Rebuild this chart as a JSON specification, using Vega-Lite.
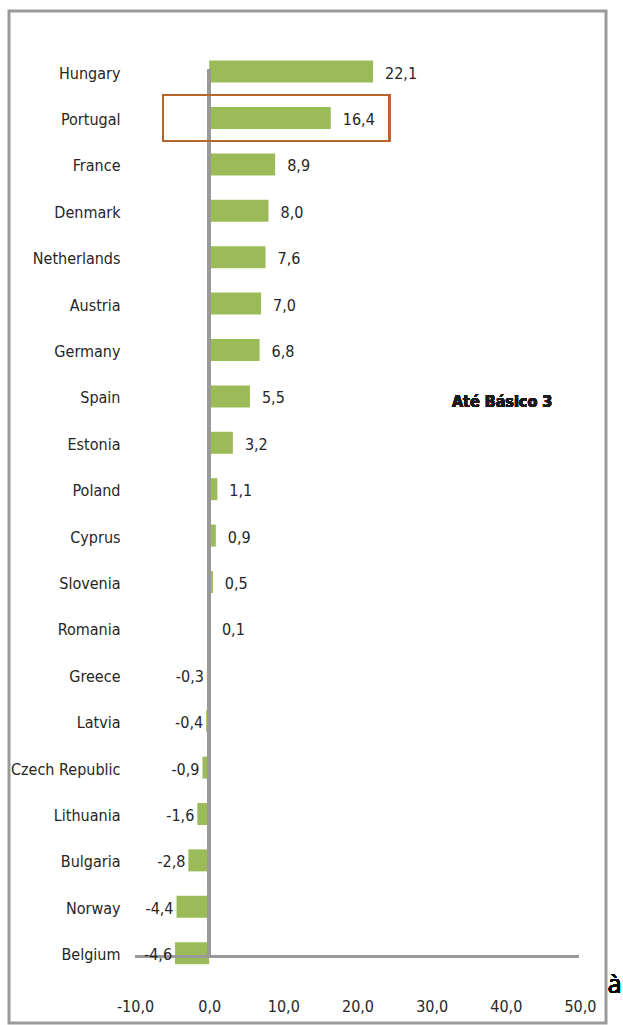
{
  "$schema": "https://vega.github.io/schema/vega-lite/v6.json",
  "width": 597,
  "height": 1012,
  "autosize": "none",
  "padding": {"left": 9, "top": 11, "right": 17, "bottom": 2},
  "background": "white",
  "config": {
    "locale": {"number": {"decimal": ",", "thousands": ".", "grouping": [3], "currency": ["", " €"], "minus": "-"}},
    "view": {"stroke": "#9a9a9a", "strokeWidth": 3},
    "font": "DejaVu Sans Condensed"
  },
  "data": {
    "values": [
      {"country": "Hungary", "value": 22.1},
      {"country": "Portugal", "value": 16.4},
      {"country": "France", "value": 8.9},
      {"country": "Denmark", "value": 8.0},
      {"country": "Netherlands", "value": 7.6},
      {"country": "Austria", "value": 7.0},
      {"country": "Germany", "value": 6.8},
      {"country": "Spain", "value": 5.5},
      {"country": "Estonia", "value": 3.2},
      {"country": "Poland", "value": 1.1},
      {"country": "Cyprus", "value": 0.9},
      {"country": "Slovenia", "value": 0.5},
      {"country": "Romania", "value": 0.1},
      {"country": "Greece", "value": -0.3},
      {"country": "Latvia", "value": -0.4},
      {"country": "Czech Republic", "value": -0.9},
      {"country": "Lithuania", "value": -1.6},
      {"country": "Bulgaria", "value": -2.8},
      {"country": "Norway", "value": -4.4},
      {"country": "Belgium", "value": -4.6}
    ]
  },
  "layer": [
    {
      "mark": {"type": "bar", "color": "#9BBB59", "size": 22},
      "encoding": {
        "y": {
          "field": "country", "type": "nominal", "sort": null,
          "scale": {"paddingInner": 0, "paddingOuter": 0.905, "align": 0.445},
          "axis": {
            "title": null, "orient": "left", "offset": -111, "domain": false, "ticks": false, "tickSize": 0,
            "labelPadding": 0, "labelFontSize": 16, "labelColor": "#262626", "labelOffset": 2,
            "labelFont": "DejaVu Sans Condensed", "grid": false
          }
        },
        "x": {
          "field": "value", "type": "quantitative",
          "scale": {"domain": [-26.99, 53.51], "nice": false, "zero": false},
          "axis": {
            "title": null, "values": [-10, 0, 10, 20, 30, 40, 50], "format": ".1f",
            "domain": false, "ticks": false, "tickSize": 0, "grid": false, "offset": -25,
            "labelPadding": 0, "labelFontSize": 16, "labelColor": "#262626",
            "labelFont": "DejaVu Sans Condensed"
          }
        }
      }
    },
    {
      "mark": {"type": "rule", "color": "#999999", "strokeWidth": 3},
      "encoding": {
        "x": {"datum": 0, "type": "quantitative"},
        "y": {"datum": "Belgium", "type": "nominal", "bandPosition": 0.57},
        "y2": {"datum": "Hungary", "bandPosition": 0.46}
      }
    },
    {
      "mark": {"type": "rule", "color": "#999999", "strokeWidth": 3},
      "encoding": {
        "x": {"datum": -10, "type": "quantitative"},
        "x2": {"datum": 49.8},
        "y": {"datum": "Belgium", "type": "nominal", "bandPosition": 0.57}
      }
    },
    {
      "transform": [{"filter": "datum.value >= 0"}],
      "mark": {"type": "text", "align": "left", "baseline": "middle", "dx": 12, "dy": 2, "fontSize": 16, "color": "#262626", "font": "DejaVu Sans Condensed"},
      "encoding": {
        "y": {"field": "country", "type": "nominal", "sort": null},
        "x": {"field": "value", "type": "quantitative"},
        "text": {"field": "value", "type": "quantitative", "format": ".1f"}
      }
    },
    {
      "transform": [{"filter": "datum.value < 0"}],
      "mark": {"type": "text", "align": "right", "baseline": "middle", "dx": -3, "dy": 2, "fontSize": 16, "color": "#262626", "font": "DejaVu Sans Condensed"},
      "encoding": {
        "y": {"field": "country", "type": "nominal", "sort": null},
        "x": {"field": "value", "type": "quantitative"},
        "text": {"field": "value", "type": "quantitative", "format": ".1f"}
      }
    },
    {
      "mark": {"type": "rect", "fill": null, "fillOpacity": 0, "stroke": "#B5652A", "strokeWidth": 1.5},
      "encoding": {
        "y": {"datum": "Portugal", "type": "nominal"},
        "x": {"datum": -6.2, "type": "quantitative"},
        "x2": {"datum": 24.3}
      }
    },
    {
      "mark": {"type": "text", "align": "center", "baseline": "middle", "dy": 6, "fontSize": 16, "fontWeight": "bold", "color": "#1a1a1a", "font": "DejaVu Sans Condensed"},
      "encoding": {
        "y": {"datum": "Spain", "type": "nominal"},
        "x": {"datum": 39.5, "type": "quantitative"},
        "text": {"value": "Até Básico 3"}
      }
    },
    {
      "mark": {"type": "text", "align": "left", "baseline": "alphabetic", "fontSize": 25, "color": "#000000", "font": "Open Sans"},
      "encoding": {
        "y": {"datum": "Belgium", "type": "nominal", "bandPosition": 1.35},
        "x": {"datum": 53.75, "type": "quantitative"},
        "text": {"value": "à"}
      }
    }
  ]
}
